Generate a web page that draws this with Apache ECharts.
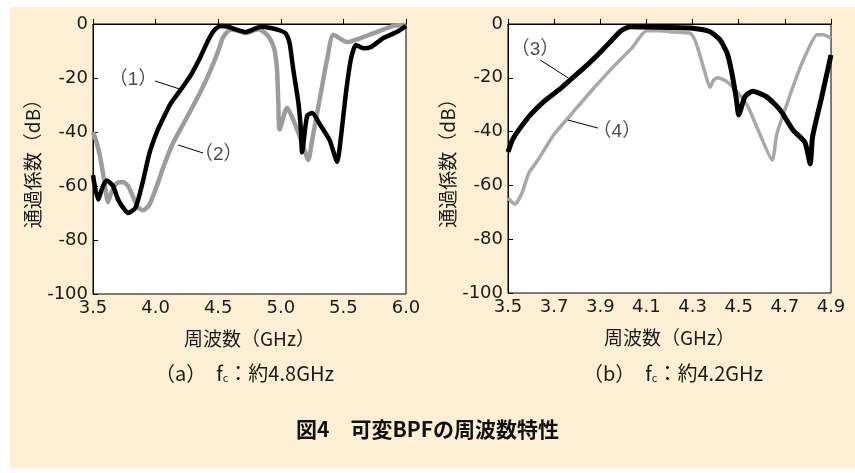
<!DOCTYPE html>
<html>
<head>
<meta charset="utf-8">
<script src="https://cdn.jsdelivr.net/npm/echarts@6/dist/echarts.min.js"></script>
<style>
  html, body { margin: 0; padding: 0; background: #fff; }
  #paper { position: absolute; left: 10px; top: 7px; width: 845px; height: 461px; background: #fdefd3; }
  #chart { position: absolute; left: 0; top: 0; width: 855px; height: 473px; }
</style>
</head>
<body>
<div id="paper"></div>
<div id="chart"></div>
<script>
// (a) fc 約4.8GHz : curve (1) black, curve (2) gray
const freq1 = [3.50, 3.54, 3.58, 3.61, 3.66, 3.70, 3.74, 3.78, 3.84, 3.90, 3.95, 4.01, 4.06, 4.12, 4.20, 4.28, 4.36, 4.42, 4.47, 4.52, 4.58, 4.64, 4.72, 4.78, 4.84, 4.92, 5.00, 5.04, 5.07, 5.10, 5.14, 5.16, 5.17, 5.21, 5.25, 5.31, 5.39, 5.45, 5.48, 5.52, 5.56, 5.60, 5.66, 5.72, 5.82, 5.93, 6.00];
const loss1 = [-56, -65, -60, -58, -60, -65, -68, -70, -68, -58, -48, -40, -35, -29.5, -24.4, -19, -12, -6, -2.2, -0.7, -1, -2, -3, -2, -1, -1.5, -2.5, -3.5, -7, -17, -29, -39, -47.5, -34, -33, -37, -43, -51, -42, -25.6, -13, -7.8, -9, -8.5, -5.2, -2.9, -0.7];

const freq2 = [3.50, 3.53, 3.56, 3.59, 3.62, 3.65, 3.69, 3.74, 3.78, 3.82, 3.86, 3.90, 3.95, 4.01, 4.07, 4.14, 4.21, 4.28, 4.36, 4.44, 4.50, 4.54, 4.60, 4.66, 4.72, 4.78, 4.82, 4.88, 4.92, 4.95, 4.97, 4.98, 4.99, 5.05, 5.10, 5.17, 5.22, 5.25, 5.29, 5.33, 5.37, 5.42, 5.53, 5.64, 5.77, 5.90, 6.00];
const loss2 = [-40, -44, -50, -58, -66, -62, -59, -58.5, -60, -64, -68, -69, -67, -60, -52, -44, -38, -32, -25, -17, -10, -4.8, -2, -2.5, -3.3, -2.5, -1.9, -3.5, -6, -9.6, -17, -29, -39, -31, -35.5, -44, -50.4, -43, -33, -23, -13, -4, -6.7, -5.2, -2.9, -0.7, -0.4];

// (b) fc 約4.2GHz : curve (3) black, curve (4) gray
const freq3 = [3.50, 3.52, 3.55, 3.60, 3.66, 3.72, 3.78, 3.84, 3.90, 3.95, 3.99, 4.03, 4.10, 4.20, 4.30, 4.376, 4.42, 4.45, 4.47, 4.49, 4.50, 4.527, 4.56, 4.62, 4.68, 4.735, 4.787, 4.81, 4.82, 4.86, 4.90];
const loss3 = [-47.6, -43, -39, -33.5, -28.5, -24.5, -20, -15.5, -10.5, -6, -2.5, -1, -1.1, -1.3, -1.6, -2.9, -6, -10.9, -18, -28, -33.8, -27, -25, -27, -32, -39.4, -44, -52, -42, -27, -11.5];

const freq4 = [3.50, 3.53, 3.56, 3.59, 3.63, 3.70, 3.78, 3.86, 3.95, 4.04, 4.10, 4.16, 4.22, 4.29, 4.31, 4.33, 4.35, 4.376, 4.39, 4.41, 4.45, 4.50, 4.54, 4.59, 4.645, 4.666, 4.71, 4.745, 4.78, 4.84, 4.865, 4.90];
const loss4 = [-64.7, -67, -63, -55.5, -50.5, -41, -33, -25, -16.5, -8.6, -2.5, -2.5, -3, -3.5, -6, -11, -17, -23.5, -21, -20, -21.5, -26, -30.7, -40.6, -50.6, -40.6, -29.5, -21, -13.4, -4, -4, -5.2];

// curve labels and their leader lines (data units)
const noteText = ['（1）', '（2）', '（3）', '（4）'];
const notePos = [[3.82, -20.7], [4.50, -48.5], [3.617, -9.7], [3.972, -40.1]];
const leaderFrom = [[3.996, -21.1], [4.18, -44.8], [3.64, -13.4], [3.76, -35.7]];
const leaderTo = [[4.212, -24.4], [4.38, -47.8], [3.76, -20], [3.89, -38.7]];
const noteGrid = [0, 0, 1, 1];

const xTicks0 = { min: 3.5, max: 6.0, interval: 0.5 };
const xTicks1 = { min: 3.5, max: 4.9, interval: 0.2 };
const yTicks = { min: -100, max: 0, interval: 20 };

const numFont = 'DejaVu Sans';
const cjkFont = '"Noto Sans CJK JP", "Noto Sans CJK SC", sans-serif';
const noteFont = '"Liberation Sans", "Noto Sans CJK JP", sans-serif';

function zip(xs, ys) {
  return xs.map((x, i) => [x, ys[i]]);
}

var chart = echarts.init(document.getElementById('chart'), null, { renderer: 'canvas' });

function xAxisOf(idx, ticks) {
  return {
    gridIndex: idx,
    type: 'value',
    min: ticks.min,
    max: ticks.max,
    interval: ticks.interval,
    name: '周波数（GHz）',
    nameLocation: 'middle',
    nameGap: 35,
    nameTextStyle: { fontFamily: cjkFont, fontSize: 19, color: '#1a1a1a' },
    axisLine: { show: true, lineStyle: { color: '#000', width: 1 } },
    axisTick: { show: true, inside: true, length: 5, lineStyle: { color: '#000' } },
    axisLabel: {
      margin: 5,
      fontFamily: numFont,
      fontSize: 18,
      color: '#1a1a1a',
      formatter: v => v.toFixed(1)
    },
    splitLine: { show: false }
  };
}

function yAxisOf(idx) {
  return {
    gridIndex: idx,
    type: 'value',
    min: yTicks.min,
    max: yTicks.max,
    interval: yTicks.interval,
    name: '通過係数（dB）',
    nameLocation: 'middle',
    nameRotate: 90,
    nameGap: 51,
    nameTextStyle: { fontFamily: cjkFont, fontSize: 19, color: '#1a1a1a' },
    axisLine: { show: true, lineStyle: { color: '#000', width: 1 } },
    axisTick: { show: true, inside: true, length: 5, lineStyle: { color: '#000' } },
    axisLabel: { margin: 5, fontFamily: numFont, fontSize: 18, color: '#1a1a1a' },
    splitLine: { show: false }
  };
}

function curve(idx, data, color, width, z) {
  return {
    type: 'line',
    xAxisIndex: idx,
    yAxisIndex: idx,
    data: data,
    showSymbol: false,
    smooth: 0.2,
    z: z,
    lineStyle: { color: color, width: width },
    silent: true
  };
}

var series = [
  curve(0, zip(freq1, loss1), '#000', 4.5, 3),
  curve(0, zip(freq2, loss2), '#9c9c9c', 4.5, 2),
  curve(1, zip(freq3, loss3), '#000', 5, 3),
  curve(1, zip(freq4, loss4), '#a8a8a8', 3.5, 2)
];

noteText.forEach((t, i) => {
  series.push({
    type: 'line',
    xAxisIndex: noteGrid[i],
    yAxisIndex: noteGrid[i],
    data: [leaderFrom[i], leaderTo[i]],
    showSymbol: false,
    z: 4,
    lineStyle: { color: '#000', width: 1 },
    silent: true
  });
  series.push({
    type: 'scatter',
    xAxisIndex: noteGrid[i],
    yAxisIndex: noteGrid[i],
    symbolSize: 0,
    z: 5,
    data: [{ value: notePos[i], name: t }],
    label: {
      show: true,
      position: 'inside',
      formatter: '{b}',
      fontFamily: noteFont,
      fontSize: 19,
      color: '#1a1a1a'
    },
    silent: true
  });
});

var option = {
  animation: false,
  backgroundColor: 'transparent',
  grid: [
    { left: 93, top: 24, width: 313, height: 270, show: true, backgroundColor: '#fff', borderColor: '#000', borderWidth: 1 },
    { left: 508, top: 24, width: 323, height: 269, show: true, backgroundColor: '#fff', borderColor: '#000', borderWidth: 1 }
  ],
  xAxis: [xAxisOf(0, xTicks0), xAxisOf(1, xTicks1)],
  yAxis: [yAxisOf(0), yAxisOf(1)],
  graphic: [
    {
      type: 'text', left: 155, top: 363,
      style: {
        text: '（a）　f{s|c}：約4.8GHz',
        fontFamily: cjkFont, fontSize: 20, fill: '#1a1a1a',
        rich: { s: { fontFamily: cjkFont, fontSize: 11, padding: [10, 0, 0, 0], fill: '#1a1a1a' } }
      }
    },
    {
      type: 'text', left: 583, top: 363,
      style: {
        text: '（b）　f{s|c}：約4.2GHz',
        fontFamily: cjkFont, fontSize: 20, fill: '#1a1a1a',
        rich: { s: { fontFamily: cjkFont, fontSize: 11, padding: [10, 0, 0, 0], fill: '#1a1a1a' } }
      }
    },
    {
      type: 'text', left: 296, top: 419,
      style: {
        text: '図4　可変BPFの周波数特性',
        fontFamily: cjkFont, fontSize: 21, fontWeight: 'bold', fill: '#111'
      }
    }
  ],
  series: series
};

option && chart.setOption(option);
</script>
</body>
</html>
